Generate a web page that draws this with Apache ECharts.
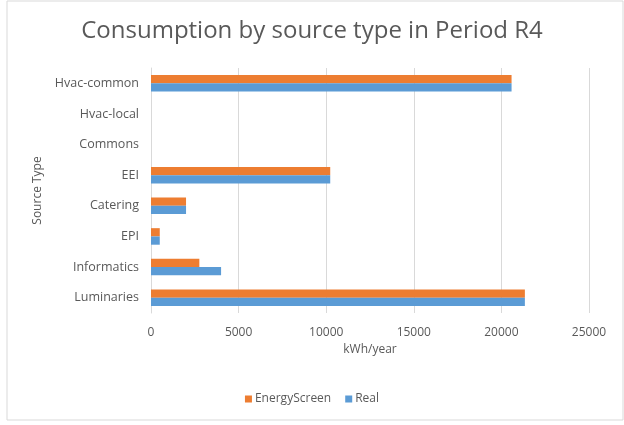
<!DOCTYPE html>
<html>
<head>
    <meta charset="utf-8">
    <title>Consumption by source type</title>
    <script src="https://cdn.jsdelivr.net/npm/echarts@6/dist/echarts.min.js"></script>
</head>
<body style="margin:0;">
    <div id="main" style="width: 624px;height:425px;"></div>
    <script type="text/javascript">
        // data (bottom to top)
        var categories = ['Luminaries', 'Informatics', 'EPI', 'Catering', 'EEI', 'Commons', 'Hvac-local', 'Hvac-common'];
        var energyScreen = [21340, 2760, 500, 2000, 10230, 0, 0, 20580];
        var real = [21340, 4000, 500, 2000, 10230, 0, 0, 20580];
        var xTicks = [0, 5000, 10000, 15000, 20000, 25000];

        var myChart = echarts.init(document.getElementById('main'));
        var txt = '#595959';
        var font = 'Open Sans';

        myChart.setOption({
            animation: false,
            backgroundColor: '#fff',
            title: {
                text: 'Consumption by source type in Period R4',
                left: 'center',
                top: 14,
                textStyle: { color: txt, fontSize: 24, fontWeight: 'normal', fontFamily: font }
            },
            legend: {
                data: ['EnergyScreen', 'Real'],
                bottom: 15,
                left: 'center',
                itemWidth: 7,
                itemHeight: 7,
                itemGap: 14,
                icon: 'rect',
                textStyle: { color: txt, fontSize: 12, fontFamily: font, padding: [0, 0, 0, -2] }
            },
            graphic: [{
                type: 'rect',
                shape: { x: 7, y: 1, width: 616, height: 419 },
                style: { fill: 'none', stroke: '#d9d9d9', lineWidth: 1 }
            }],
            grid: { left: 151, right: 35, top: 68, bottom: 112 },
            xAxis: {
                type: 'value',
                min: 0,
                max: xTicks[xTicks.length - 1],
                interval: 5000,
                name: 'kWh/year',
                nameLocation: 'middle',
                nameGap: 29,
                nameTextStyle: { color: txt, fontSize: 12, fontFamily: font },
                axisLine: { show: false },
                axisTick: { show: false },
                axisLabel: { color: txt, fontSize: 12, fontFamily: font, margin: 14, formatter: function (v) { return String(v); } },
                splitLine: { lineStyle: { color: '#d9d9d9' } }
            },
            yAxis: {
                type: 'category',
                data: categories,
                name: 'Source Type',
                nameLocation: 'middle',
                nameGap: 107,
                nameRotate: 90,
                nameTextStyle: { color: txt, fontSize: 12, fontFamily: font },
                axisLine: { lineStyle: { color: '#d9d9d9' } },
                axisTick: { show: false },
                axisLabel: { color: txt, fontSize: 12.5, fontFamily: font, margin: 12 }
            },
            series: [{
                name: 'EnergyScreen',
                type: 'bar',
                data: energyScreen,
                itemStyle: { color: '#ed7d31' },
                barGap: '0%',
                barCategoryGap: '46%'
            }, {
                name: 'Real',
                type: 'bar',
                data: real,
                itemStyle: { color: '#5b9bd5' },
                barGap: '0%',
                barCategoryGap: '46%'
            }]
        });
    </script>
</body>
</html>
